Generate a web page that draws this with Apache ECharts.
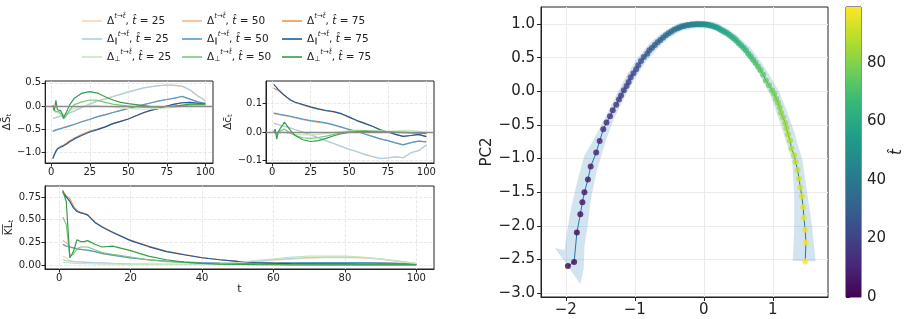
<!DOCTYPE html>
<html>
<head>
<meta charset="utf-8">
<script src="https://cdn.jsdelivr.net/npm/echarts@6/dist/echarts.min.js"></script>
<style>
  html, body { margin: 0; padding: 0; background: #fff; }
  #chart { width: 909px; height: 319px; }
</style>
</head>
<body>
<div id="chart"></div>
<script>
// time steps shared by the three small panels
const T = [1,2,3,4,5,6,7,8,10,12,15,20,25,30,35,40,45,50,55,60,65,70,75,80,85,90,95,100]

// panel 1: delta S bar
const S_D25 = [-0.26,-0.25,-0.25,-0.24,-0.23,-0.22,-0.21,-0.19,-0.17,-0.14,-0.10,-0.02,0.05,0.11,0.16,0.21,0.26,0.31,0.35,0.39,0.42,0.44,0.45,0.44,0.42,0.34,0.21,0.11]
const S_D50 = [-0.54,-0.53,-0.51,-0.50,-0.49,-0.48,-0.47,-0.46,-0.44,-0.42,-0.39,-0.33,-0.28,-0.23,-0.18,-0.14,-0.09,-0.05,-0.01,0.03,0.07,0.11,0.14,0.17,0.20,0.15,0.09,0.06]
const S_D75 = [-1.12,-1.04,-0.97,-0.92,-0.89,-0.87,-0.86,-0.84,-0.80,-0.75,-0.69,-0.61,-0.54,-0.50,-0.45,-0.38,-0.33,-0.28,-0.21,-0.15,-0.09,-0.05,0.00,0.04,0.07,0.08,0.06,0.04]
const S_P25 = [-0.27,-0.26,-0.25,-0.24,-0.23,-0.22,-0.21,-0.20,-0.18,-0.15,-0.11,-0.03,0.04,0.11,0.15,0.20,0.25,0.30,0.35,0.39,0.42,0.44,0.45,0.45,0.43,0.35,0.22,0.12]
const S_P50 = [-0.55,-0.53,-0.52,-0.51,-0.50,-0.49,-0.48,-0.47,-0.45,-0.43,-0.40,-0.34,-0.29,-0.23,-0.19,-0.14,-0.10,-0.05,-0.01,0.03,0.07,0.11,0.14,0.17,0.21,0.15,0.09,0.06]
const S_P75 = [-1.14,-1.05,-0.98,-0.93,-0.90,-0.89,-0.88,-0.86,-0.82,-0.77,-0.71,-0.63,-0.56,-0.51,-0.45,-0.38,-0.33,-0.28,-0.21,-0.14,-0.09,-0.05,0.00,0.04,0.07,0.08,0.06,0.04]
const S_O25 = [-0.08,-0.10,-0.14,-0.12,-0.15,-0.17,-0.19,-0.20,-0.16,-0.10,-0.05,-0.01,0.02,0.01,-0.01,-0.02,-0.04,-0.05,-0.06,-0.07,-0.06,-0.05,-0.04,-0.03,-0.01,0.00,0.01,0.02]
const S_O50 = [-0.05,-0.02,-0.12,-0.08,-0.12,-0.15,-0.20,-0.28,-0.20,-0.08,0.03,0.09,0.13,0.12,0.08,0.04,0.02,0.00,-0.02,-0.03,-0.03,-0.02,-0.01,0.00,0.01,0.02,0.03,0.03]
const S_O75 = [0.02,-0.10,0.12,-0.08,-0.05,-0.10,-0.16,-0.26,-0.12,0.03,0.17,0.28,0.31,0.28,0.20,0.13,0.08,0.05,0.03,0.01,-0.01,-0.02,-0.01,0.00,0.02,0.04,0.04,0.04]

// panel 2: delta c bar
const C_D25 = [0.030,0.029,0.027,0.026,0.024,0.022,0.021,0.019,0.016,0.013,0.008,-0.001,-0.010,-0.021,-0.031,-0.041,-0.051,-0.061,-0.069,-0.079,-0.086,-0.092,-0.091,-0.087,-0.089,-0.073,-0.064,-0.046]
const C_D50 = [0.064,0.063,0.062,0.061,0.060,0.059,0.058,0.057,0.055,0.053,0.049,0.043,0.038,0.034,0.030,0.024,0.016,0.009,0.002,-0.007,-0.015,-0.024,-0.030,-0.038,-0.044,-0.037,-0.032,-0.034]
const C_D75 = [0.153,0.150,0.148,0.145,0.141,0.137,0.132,0.127,0.119,0.111,0.103,0.094,0.086,0.080,0.074,0.070,0.063,0.051,0.040,0.030,0.020,0.008,0.000,-0.008,-0.015,-0.012,-0.009,-0.016]
const C_P25 = [0.031,0.030,0.028,0.026,0.024,0.023,0.022,0.020,0.017,0.014,0.009,0.000,-0.009,-0.020,-0.030,-0.040,-0.050,-0.060,-0.068,-0.078,-0.085,-0.093,-0.090,-0.086,-0.090,-0.072,-0.065,-0.045]
const C_P50 = [0.066,0.065,0.064,0.063,0.062,0.061,0.060,0.059,0.057,0.055,0.051,0.045,0.040,0.036,0.032,0.025,0.017,0.009,0.002,-0.007,-0.015,-0.024,-0.030,-0.038,-0.045,-0.037,-0.032,-0.034]
const C_P75 = [0.166,0.160,0.155,0.148,0.143,0.138,0.133,0.128,0.120,0.112,0.104,0.096,0.088,0.081,0.075,0.071,0.064,0.052,0.040,0.030,0.020,0.008,0.000,-0.008,-0.015,-0.012,-0.008,-0.016]
const C_O25 = [0.000,0.001,-0.002,0.000,0.001,0.000,0.000,-0.002,-0.004,-0.006,-0.008,-0.010,-0.010,-0.008,-0.005,-0.002,0.002,0.005,0.007,0.006,0.005,0.004,0.003,0.004,0.006,0.005,0.002,-0.002]
const C_O50 = [0.000,0.004,-0.008,0.000,0.004,0.006,0.009,0.010,0.003,-0.004,-0.012,-0.020,-0.022,-0.019,-0.014,-0.008,-0.003,0.002,0.004,0.004,0.003,0.002,0.001,0.000,0.000,-0.002,-0.003,-0.004]
const C_O75 = [0.000,0.010,-0.025,0.000,0.010,0.018,0.026,0.035,0.020,0.005,-0.012,-0.027,-0.033,-0.030,-0.022,-0.013,-0.006,-0.001,0.001,0.002,0.001,0.000,0.000,-0.001,-0.002,-0.003,-0.003,-0.006]

// panel 3: mean KL
const K_D25 = [0.10,0.08,0.05,0.04,0.036,0.034,0.032,0.03,0.026,0.023,0.018,0.013,0.01,0.009,0.009,0.011,0.016,0.027,0.04,0.055,0.068,0.078,0.082,0.083,0.078,0.065,0.042,0.018]
const K_D50 = [0.27,0.25,0.20,0.19,0.18,0.174,0.168,0.162,0.148,0.128,0.108,0.079,0.059,0.044,0.034,0.027,0.022,0.02,0.02,0.022,0.025,0.028,0.03,0.03,0.028,0.025,0.02,0.015]
const K_D75 = [0.82,0.76,0.73,0.65,0.60,0.58,0.57,0.555,0.475,0.425,0.365,0.275,0.21,0.155,0.117,0.083,0.06,0.042,0.03,0.022,0.018,0.016,0.015,0.014,0.013,0.012,0.01,0.008]
const K_P25 = [0.06,0.05,0.045,0.04,0.038,0.036,0.034,0.032,0.028,0.025,0.02,0.015,0.012,0.01,0.01,0.012,0.018,0.03,0.045,0.06,0.075,0.085,0.088,0.09,0.085,0.07,0.045,0.02]
const K_P50 = [0.23,0.21,0.20,0.19,0.18,0.175,0.17,0.165,0.15,0.13,0.11,0.08,0.06,0.045,0.035,0.028,0.022,0.02,0.02,0.022,0.025,0.028,0.03,0.03,0.028,0.025,0.02,0.015]
const K_P75 = [0.80,0.75,0.70,0.63,0.59,0.575,0.565,0.55,0.47,0.42,0.36,0.27,0.205,0.15,0.115,0.082,0.06,0.042,0.03,0.022,0.018,0.016,0.015,0.014,0.013,0.012,0.01,0.008]
const K_O25 = [0.03,0.03,0.025,0.02,0.02,0.018,0.017,0.016,0.014,0.013,0.012,0.01,0.01,0.01,0.011,0.015,0.022,0.03,0.05,0.07,0.09,0.10,0.10,0.10,0.09,0.07,0.04,0.02]
const K_O50 = [0.53,0.45,0.10,0.12,0.18,0.20,0.20,0.20,0.17,0.14,0.12,0.09,0.06,0.04,0.03,0.02,0.015,0.01,0.008,0.006,0.005,0.005,0.004,0.004,0.004,0.004,0.004,0.004]
const K_O75 = [0.82,0.70,0.08,0.15,0.28,0.26,0.26,0.27,0.23,0.20,0.21,0.16,0.10,0.06,0.035,0.02,0.012,0.008,0.006,0.005,0.004,0.004,0.003,0.003,0.003,0.003,0.003,0.003]

// PCA trajectory, one point per t-hat (0..99)
const PC1 = [-1.97,-1.88,-1.84,-1.79,-1.76,-1.73,-1.68,-1.64,-1.56,-1.51,-1.457,-1.41,-1.36,-1.32,-1.27,-1.23,-1.20,-1.16,-1.12,-1.09,-1.06,-1.02,-0.98,-0.95,-0.91,-0.87,-0.82,-0.79,
  -0.75,-0.71,-0.67,-0.63,-0.59,-0.55,-0.51,-0.47,-0.43,-0.39,-0.355,-0.32,-0.285,-0.25,-0.215,-0.18,-0.15,-0.12,-0.09,-0.06,-0.03,0.0,
  0.03,0.06,0.09,0.12,0.155,0.19,0.225,0.26,0.295,0.33,0.365,0.40,0.435,0.47,0.505,0.54,0.575,0.61,0.645,0.68,0.715,0.75,0.785,0.82,0.86,
  0.90,0.945,0.99,1.02,1.05,1.075,1.10,1.12,1.15,1.18,1.20,1.22,1.25,1.27,1.31,1.33,1.36,1.38,1.40,1.42,1.44,1.45,1.47,1.48,1.47]
const PC2 = [-2.60,-2.54,-2.10,-1.83,-1.65,-1.50,-1.31,-1.12,-0.91,-0.74,-0.565,-0.465,-0.37,-0.28,-0.20,-0.12,-0.06,0.015,0.08,0.14,0.21,0.27,0.33,0.39,0.45,0.51,0.56,0.61,
  0.65,0.69,0.73,0.765,0.80,0.835,0.865,0.89,0.915,0.935,0.95,0.963,0.973,0.982,0.988,0.993,0.996,0.998,1.0,1.0,1.0,0.998,
  0.994,0.99,0.982,0.975,0.96,0.95,0.93,0.91,0.89,0.87,0.845,0.815,0.79,0.755,0.72,0.685,0.65,0.61,0.56,0.52,0.47,0.42,0.37,0.316,0.25,
  0.16,0.09,0.015,-0.035,-0.11,-0.17,-0.24,-0.32,-0.39,-0.47,-0.55,-0.64,-0.73,-0.85,-0.95,-1.05,-1.17,-1.30,-1.43,-1.56,-1.72,-1.88,-2.06,-2.25,-2.53]

// uncertainty band outline around the trajectory
const BAND_X = [-1.79,-1.74,-1.73,-1.68,-1.64,-1.56,-1.42,-1.30,-1.14,-1.0,-0.86,-0.69,-0.51,-0.32,-0.1,0.14,0.37,0.56,0.73,0.85,0.96,1.06,1.16,1.28,1.31,1.31,1.29,
  1.62,1.57,1.50,1.43,1.31,1.20,1.09,0.97,0.84,0.67,0.45,0.17,-0.1,-0.35,-0.56,-0.76,-0.96,-1.12,-1.26,-1.42,-1.62,-1.73,-1.83,-1.92,-1.98,-2.02,-2.16,-1.99]
const BAND_Y = [-2.87,-2.63,-2.31,-1.97,-1.62,-1.22,-0.73,-0.40,-0.07,0.19,0.41,0.62,0.79,0.90,0.945,0.925,0.78,0.60,0.38,0.17,-0.05,-0.33,-0.64,-1.03,-1.52,-2.02,-2.52,
  -2.53,-2.02,-1.52,-1.03,-0.60,-0.28,0.0,0.21,0.42,0.66,0.86,1.03,1.055,1.02,0.91,0.74,0.50,0.24,-0.04,-0.37,-0.76,-0.95,-1.32,-1.72,-2.07,-2.36,-2.33,-2.57]

// tick labels
const TICKS_T4 = [0, 25, 50, 75, 100]
const TICKS_T5 = [0, 20, 40, 60, 80, 100]
const TICKS_S = [-1.0, -0.5, 0.0, 0.5]
const TICKS_C = [-0.1, 0.0, 0.1]
const TICKS_K = [0.0, 0.25, 0.5, 0.75]
const TICKS_PC1 = [-2, -1, 0, 1]
const TICKS_PC2 = [-3.0, -2.5, -2.0, -1.5, -1.0, -0.5, 0.0, 0.5, 1.0]
const TICKS_CB = [0, 20, 40, 60, 80]
const THAT_MAX = 99

const VIRIDIS = ['#440154','#482878','#3e4989','#31688e','#26828e','#1f9e89','#35b779','#6ece58','#b5de2b','#fde725']
const ORDER = ['D25','D50','D75','P25','P50','P75','O25','O50','O75']
const LINE_COLORS = {
  D25: '#fdd5ae', D50: '#fdb57d', D75: '#f4934a',
  P25: '#a9cfe5', P50: '#4f9bcb', P75: '#1b5c9e',
  O25: '#c4e8bd', O50: '#7bc77c', O75: '#359d4c'
}
const PANELS = [
  { D25: S_D25, D50: S_D50, D75: S_D75, P25: S_P25, P50: S_P50, P75: S_P75, O25: S_O25, O50: S_O50, O75: S_O75 },
  { D25: C_D25, D50: C_D50, D75: C_D75, P25: C_P25, P50: C_P50, P75: C_P75, O25: C_O25, O50: C_O50, O75: C_O75 },
  { D25: K_D25, D50: K_D50, D75: K_D75, P25: K_P25, P50: K_P50, P75: K_P75, O25: K_O25, O50: K_O50, O75: K_O75 },
]

const FONT = 'DejaVu Sans'
const INK = '#222'
const fmt = (d) => (v) => Number(v).toFixed(d).replace('-', '\u2212')

const RICH = {
  d: { fontFamily: FONT, fontSize: 10.5, color: INK, lineHeight: 16 },
  sup: { fontFamily: FONT, fontSize: 7, fontStyle: 'italic', color: INK, lineHeight: 16, padding: [0, 0, 9, 0] },
  sub: { fontFamily: FONT, fontSize: 7, color: INK, lineHeight: 16, padding: [5, 0, 0, 0] },
  r: { fontFamily: FONT, fontSize: 10.5, color: INK, lineHeight: 16 },
  it: { fontFamily: FONT, fontSize: 10.5, fontStyle: 'italic', color: INK, lineHeight: 16 },
}
const LEG_HEAD = { D: '{d|Δ}{sup|t→t̂}', P: '{d|Δ}{sub|∥}{sup|t→t̂}', O: '{d|Δ}{sub|⊥}{sup|t→t̂}' }
const legendLabel = (name) => LEG_HEAD[name[0]] + '{r|, }{it|t̂}{r| = ' + name.slice(1) + '}'

const makeLegend = (left, names) => ({
  orient: 'vertical', left: left, top: 8, itemWidth: 20, itemHeight: 1.6, itemGap: 2,
  icon: 'rect', selectedMode: false, data: names, formatter: legendLabel,
  textStyle: { fontFamily: FONT, fontSize: 10, color: INK, rich: RICH },
})

const smallX = (gi, ticks, extra) => Object.assign({
  gridIndex: gi, type: 'value', min: -3.95, max: 104.95,
  axisLine: { show: true, onZero: false, lineStyle: { color: INK, width: 1 } },
  axisTick: { show: true, customValues: ticks, length: 3.5, lineStyle: { color: INK } },
  axisLabel: { customValues: ticks, fontFamily: FONT, fontSize: 10, color: INK, margin: 4, formatter: fmt(0) },
  splitLine: { show: true, lineStyle: { color: '#e2e2e2', type: 'dashed', width: 0.8 } },
}, extra || {})

const smallY = (gi, min, max, ticks, dec, name, gap) => ({
  gridIndex: gi, type: 'value', min: min, max: max,
  name: name, nameLocation: 'middle', nameGap: gap, nameRotate: 90,
  nameTextStyle: { fontFamily: FONT, fontSize: 10, color: INK, rich: RICH },
  axisLine: { show: true, onZero: false, lineStyle: { color: INK, width: 1 } },
  axisTick: { show: true, customValues: ticks, length: 3.5, lineStyle: { color: INK } },
  axisLabel: { customValues: ticks, fontFamily: FONT, fontSize: 10, color: INK, margin: 4, formatter: fmt(dec) },
  splitLine: { show: true, lineStyle: { color: '#e2e2e2', type: 'dashed', width: 0.8 } },
})

const series = []
PANELS.forEach((panel, gi) => {
  ORDER.forEach((name, k) => {
    const s = {
      name: name, type: 'line', xAxisIndex: gi, yAxisIndex: gi, symbol: 'none', silent: true,
      data: T.map((t, i) => [t, panel[name][i]]),
      lineStyle: { color: LINE_COLORS[name], width: 1.2 },
      itemStyle: { color: LINE_COLORS[name] },
    }
    if (k === 0 && gi < 2) {
      s.markLine = {
        silent: true, symbol: 'none', label: { show: false },
        lineStyle: { color: '#8a8a8a', width: 1.3, type: 'solid' },
        data: [{ yAxis: 0 }],
      }
    }
    series.push(s)
  })
})

// band
series.push({
  type: 'custom', xAxisIndex: 3, yAxisIndex: 3, silent: true, z: 1,
  data: [[0, 0]],
  renderItem: (params, api) => ({
    type: 'polygon',
    shape: { points: BAND_X.map((x, i) => api.coord([x, BAND_Y[i]])) },
    style: { fill: 'rgba(31,119,180,0.2)' },
  }),
})
// connecting line
series.push({
  type: 'line', xAxisIndex: 3, yAxisIndex: 3, symbol: 'none', silent: true, z: 2,
  data: PC1.map((x, i) => [x, PC2[i]]),
  lineStyle: { color: '#1f77b4', width: 1 },
})
// points coloured by t-hat
const scatterIndex = series.length
series.push({
  type: 'scatter', xAxisIndex: 3, yAxisIndex: 3, symbolSize: 6, z: 3, silent: true,
  data: PC1.map((x, i) => [x, PC2[i], i]),
})
// colorbar
series.push({
  type: 'custom', xAxisIndex: 4, yAxisIndex: 4, silent: true,
  data: [[0, 0]],
  renderItem: (params, api) => {
    const p0 = api.coord([0, 0])
    const p1 = api.coord([1, THAT_MAX])
    return {
      type: 'rect',
      shape: { x: p0[0], y: p1[1], width: p1[0] - p0[0], height: p0[1] - p1[1] },
      style: {
        fill: new echarts.graphic.LinearGradient(0, 1, 0, 0,
          VIRIDIS.map((c, i) => ({ offset: i / (VIRIDIS.length - 1), color: c }))),
      },
    }
  },
})

const option = {
  animation: false,
  backgroundColor: '#fff',
  textStyle: { fontFamily: FONT },
  legend: [
    makeLegend(77, ['D25', 'P25', 'O25']),
    makeLegend(177, ['D50', 'P50', 'O50']),
    makeLegend(277, ['D75', 'P75', 'O75']),
  ],
  visualMap: {
    type: 'continuous', show: false, seriesIndex: scatterIndex, dimension: 2,
    min: 0, max: THAT_MAX, inRange: { color: VIRIDIS },
  },
  grid: [
    { left: 45, top: 81, width: 168, height: 82, show: true, borderColor: INK, borderWidth: 1, backgroundColor: '#fff' },
    { left: 266, top: 81, width: 168, height: 82, show: true, borderColor: INK, borderWidth: 1, backgroundColor: '#fff' },
    { left: 45, top: 186, width: 389, height: 83, show: true, borderColor: INK, borderWidth: 1, backgroundColor: '#fff' },
    { left: 541, top: 7, width: 287, height: 290, show: true, borderColor: INK, borderWidth: 1, backgroundColor: '#fff' },
    { left: 846, top: 7, width: 15, height: 290, show: true, borderColor: INK, borderWidth: 1 },
  ],
  xAxis: [
    smallX(0, TICKS_T4),
    smallX(1, TICKS_T4),
    smallX(2, TICKS_T5, {
      name: 't', nameLocation: 'middle', nameGap: 15,
      nameTextStyle: { fontFamily: FONT, fontSize: 11, color: INK },
    }),
    {
      gridIndex: 3, type: 'value', min: -2.36, max: 1.80,
      axisLine: { show: true, onZero: false, lineStyle: { color: INK, width: 1 } },
      axisTick: { show: true, customValues: TICKS_PC1, length: 4, lineStyle: { color: INK } },
      axisLabel: { customValues: TICKS_PC1, fontFamily: FONT, fontSize: 15, color: INK, margin: 6, formatter: fmt(0) },
      splitLine: { show: true, lineStyle: { color: '#ebebeb', width: 1 } },
    },
    { gridIndex: 4, type: 'value', min: 0, max: 1, show: false },
  ],
  yAxis: [
    smallY(0, -1.23, 0.54, TICKS_S, 1, '{d|ΔS̄}{sub|t}', 20),
    smallY(1, -0.108, 0.178, TICKS_C, 1, '{d|Δc̄}{sub|t}', 22),
    smallY(2, -0.0415, 0.87, TICKS_K, 2, '{d|K̅L̅}{sub|t}', 22),
    {
      gridIndex: 3, type: 'value', min: -3.06, max: 1.255,
      name: 'PC2', nameLocation: 'middle', nameGap: 41, nameRotate: 90,
      nameTextStyle: { fontFamily: FONT, fontSize: 15, color: INK },
      axisLine: { show: true, onZero: false, lineStyle: { color: INK, width: 1 } },
      axisTick: { show: true, customValues: TICKS_PC2, length: 4, lineStyle: { color: INK } },
      axisLabel: { customValues: TICKS_PC2, fontFamily: FONT, fontSize: 15, color: INK, margin: 6, formatter: fmt(1) },
      splitLine: { show: true, lineStyle: { color: '#ebebeb', width: 1 } },
    },
    {
      gridIndex: 4, type: 'value', min: 0, max: THAT_MAX, position: 'right',
      name: 't̂', nameLocation: 'middle', nameGap: 29, nameRotate: 90,
      nameTextStyle: { fontFamily: FONT, fontSize: 15, fontStyle: 'italic', color: INK },
      axisLine: { show: false },
      axisTick: { show: true, customValues: TICKS_CB, length: 4, lineStyle: { color: INK } },
      axisLabel: { customValues: TICKS_CB, fontFamily: FONT, fontSize: 15, color: INK, margin: 6, formatter: fmt(0) },
      splitLine: { show: false },
    },
  ],
  series: series,
}

const chart = echarts.init(document.getElementById('chart'))
chart.setOption(option)
window.addEventListener('resize', () => chart.resize())
</script>
</body>
</html>
